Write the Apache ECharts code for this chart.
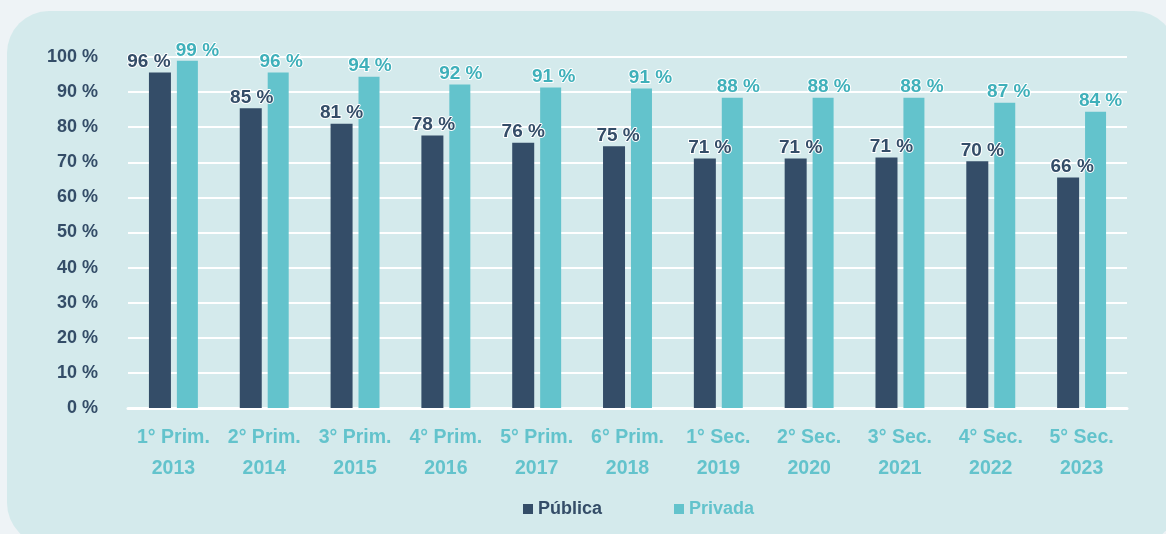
<!DOCTYPE html>
<html>
<head>
<meta charset="utf-8">
<script src="https://cdn.jsdelivr.net/npm/echarts@6/dist/echarts.min.js"></script>
<style>
html, body { margin: 0; padding: 0; background: #eef3f6; }
#chart { width: 1166px; height: 534px; }
</style>
</head>
<body>
<div id="chart"></div>
<script>
var grados = ['1° Prim.', '2° Prim.', '3° Prim.', '4° Prim.', '5° Prim.', '6° Prim.', '1° Sec.', '2° Sec.', '3° Sec.', '4° Sec.', '5° Sec.'];
var anios = ['2013', '2014', '2015', '2016', '2017', '2018', '2019', '2020', '2021', '2022', '2023'];
var publica = [95.6, 85.4, 81.0, 77.6, 75.6, 74.6, 71.1, 71.1, 71.4, 70.3, 65.7];
var privada = [98.9, 95.6, 94.4, 92.2, 91.3, 91.0, 88.4, 88.4, 88.4, 87.0, 84.4];

// desplazamiento horizontal de las etiquetas (px), como en el original
var despPub = [-11, 1, 0, 1, 0, 4, 5, 5, 5, 5, 4];
var despPriv = [10, 3, 1, 1, 3, 9, 6, 6, 8, 4, 5];

var categorias = grados.map(function (g, i) {
    return g + '\n' + anios[i];
});

var colorPub = '#344d68';
var colorPriv = '#63c3cc';
var fuente = 'Liberation Sans, Arial, sans-serif';

function armarDatos(valores, desp) {
    return valores.map(function (v, i) {
        return { value: v, label: { offset: [desp[i], 0] } };
    });
}

function etiqueta(color) {
    return {
        show: true,
        position: 'top',
        distance: 1,
        formatter: function (p) { return Math.round(p.value) + ' %'; },
        color: color,
        fontFamily: fuente,
        fontSize: 19,
        fontWeight: 'bold',
        textBorderColor: '#ffffff',
        textBorderWidth: 2
    };
}

var myChart = echarts.init(document.getElementById('chart'));
var option = {
    animation: false,
    backgroundColor: '#eef3f6',
    graphic: [{
        type: 'rect',
        z: -10,
        shape: { x: 7, y: 11, width: 1169, height: 534, r: 42 },
        style: { fill: '#d4eaec' }
    }],
    grid: { left: 128, right: 39, top: 57, bottom: 126 },
    legend: {
        left: 518,
        top: 495,
        itemWidth: 10,
        itemHeight: 10,
        itemGap: 72,
        icon: 'rect',
        textStyle: { fontFamily: fuente, fontSize: 18, fontWeight: 'bold' },
        data: [
            { name: 'Pública', textStyle: { color: colorPub } },
            { name: 'Privada', textStyle: { color: colorPriv } }
        ]
    },
    xAxis: {
        type: 'category',
        data: categorias,
        axisLine: { show: true, lineStyle: { color: '#ffffff', width: 3 } },
        axisTick: { show: false },
        axisLabel: {
            color: colorPriv,
            fontFamily: fuente,
            fontSize: 19.5,
            fontWeight: 'bold',
            lineHeight: 31,
            margin: 14,
            interval: 0
        }
    },
    yAxis: {
        type: 'value',
        min: 0,
        max: 100,
        interval: 10,
        axisLine: { show: false },
        axisTick: { show: false },
        splitLine: { lineStyle: { color: '#ffffff', width: 2 } },
        axisLabel: {
            color: colorPub,
            fontFamily: fuente,
            fontSize: 18,
            fontWeight: 'bold',
            margin: 30,
            formatter: '{value} %'
        }
    },
    series: [
        {
            name: 'Pública',
            type: 'bar',
            data: armarDatos(publica, despPub),
            barWidth: 22,
            barGap: '27%',
            itemStyle: { color: colorPub },
            label: etiqueta(colorPub)
        },
        {
            name: 'Privada',
            type: 'bar',
            data: armarDatos(privada, despPriv),
            barWidth: 21,
            itemStyle: { color: colorPriv },
            label: etiqueta('#3fb0ba')
        }
    ]
};
myChart.setOption(option);
window.addEventListener('resize', function () {
    myChart.resize();
});
</script>
</body>
</html>
